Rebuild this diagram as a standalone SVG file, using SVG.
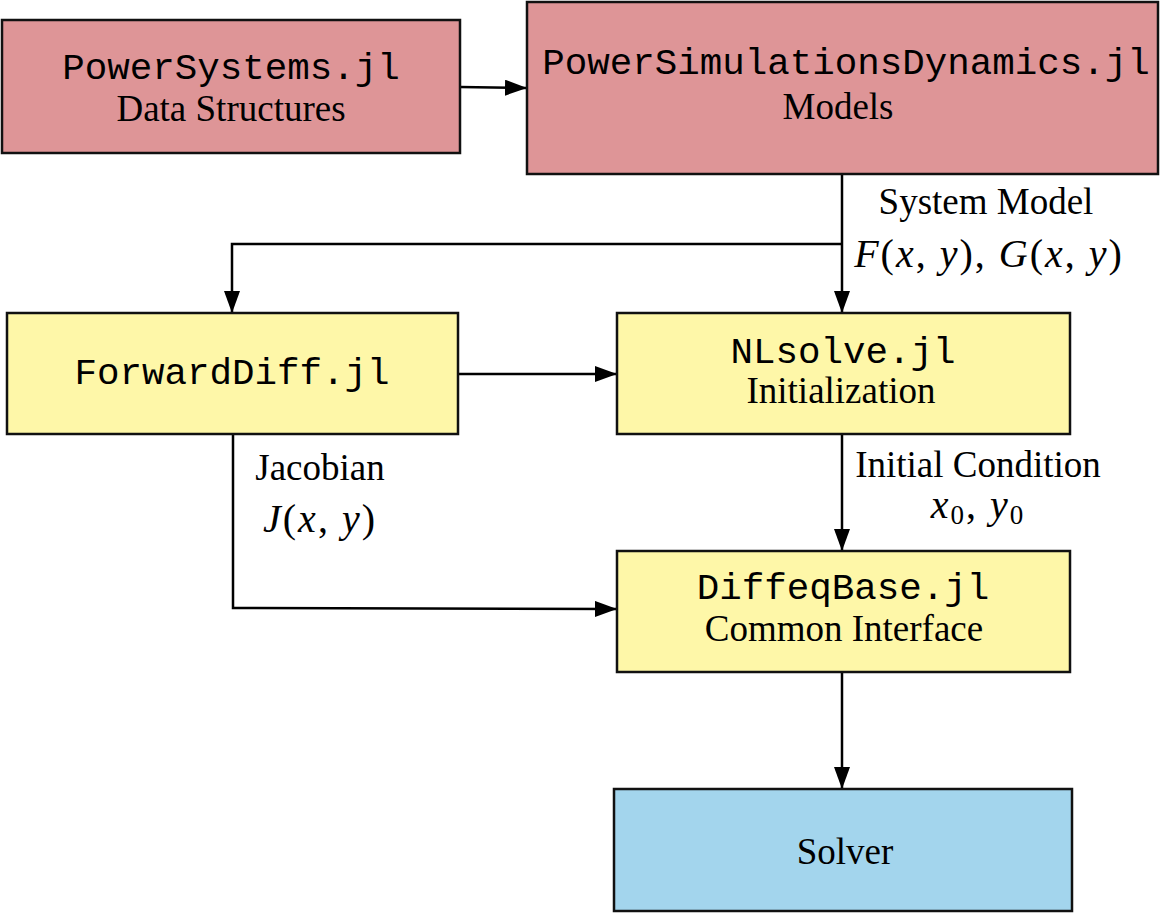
<svg xmlns="http://www.w3.org/2000/svg" width="1163" height="914" viewBox="0 0 1163 914">
<defs>
<marker id="arr" markerUnits="userSpaceOnUse" markerWidth="22" markerHeight="16" refX="21" refY="8" orient="auto">
<path d="M0,0 L22,8 L0,16 Z" fill="#000"/>
</marker>
<style>
.box{stroke:#111;stroke-width:2.5}
.red{fill:#de9597}
.yel{fill:#fef7a8}
.blu{fill:#a3d5ed}
.mono{font-family:"Liberation Mono","Courier New",monospace;font-size:37.5px;fill:#000;text-anchor:middle}
.ser{font-family:"Liberation Serif","Times New Roman",serif;font-size:37px;fill:#000;text-anchor:middle}
.math{font-family:"Liberation Serif","Times New Roman",serif;font-size:40px;letter-spacing:2px;fill:#000;text-anchor:middle}
.it{font-style:italic}
.con{fill:none;stroke:#000;stroke-width:2.5}
</style>
</defs>
<rect width="1163" height="914" fill="#fff"/>
<g id="connectors">
<path class="con" d="M460,87 L526,88" marker-end="url(#arr)"/>
<path class="con" d="M842,174 L842,312" marker-end="url(#arr)"/>
<path class="con" d="M842,244 L232,244 L232,312" marker-end="url(#arr)"/>
<path class="con" d="M458,374 L616,374" marker-end="url(#arr)"/>
<path class="con" d="M842,434 L842,550" marker-end="url(#arr)"/>
<path class="con" d="M233,434 L233,608 L616,609" marker-end="url(#arr)"/>
<path class="con" d="M842,672 L842,788" marker-end="url(#arr)"/>
<text class="ser" x="986" y="214">System Model</text>
<text class="math" x="989" y="267"><tspan class="it">F</tspan>(<tspan class="it">x</tspan>, <tspan class="it">y</tspan>), <tspan class="it">G</tspan>(<tspan class="it">x</tspan>, <tspan class="it">y</tspan>)</text>
<text class="ser" x="978" y="477">Initial Condition</text>
<text class="math" x="978" y="518"><tspan class="it">x</tspan><tspan font-size="27" dy="6">0</tspan><tspan dy="-6">, </tspan><tspan class="it">y</tspan><tspan font-size="27" dy="6">0</tspan></text>
<text class="ser" x="320" y="480">Jacobian</text>
<text class="math" x="320" y="532"><tspan class="it">J</tspan>(<tspan class="it">x</tspan>, <tspan class="it">y</tspan>)</text>
</g>
<g id="powersystems">
<rect class="box red" x="2" y="20" width="458" height="133"/>
<text class="mono" x="231" y="79">PowerSystems.jl</text>
<text class="ser" x="231" y="121">Data Structures</text>
</g>
<g id="psid">
<rect class="box red" x="527" y="2" width="631" height="172"/>
<text class="mono" x="846" y="74">PowerSimulationsDynamics.jl</text>
<text class="ser" x="838" y="119">Models</text>
</g>
<g id="forwarddiff">
<rect class="box yel" x="7" y="313" width="451" height="121"/>
<text class="mono" x="232" y="384">ForwardDiff.jl</text>
</g>
<g id="nlsolve">
<rect class="box yel" x="617" y="313" width="453" height="121"/>
<text class="mono" x="843" y="363">NLsolve.jl</text>
<text class="ser" x="841" y="403">Initialization</text>
</g>
<g id="diffeqbase">
<rect class="box yel" x="617" y="551" width="453" height="121"/>
<text class="mono" x="843" y="599">DiffeqBase.jl</text>
<text class="ser" x="844" y="641">Common Interface</text>
</g>
<g id="solver">
<rect class="box blu" x="614" y="789" width="458" height="122"/>
<text class="ser" x="845" y="864">Solver</text>
</g>
</svg>
